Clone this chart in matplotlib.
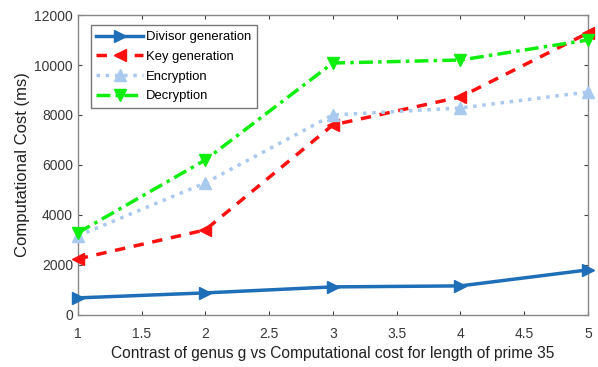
import matplotlib
matplotlib.use("Agg")
import matplotlib.pyplot as plt

genus = [1, 2, 3, 4, 5]
divisor_gen = [680, 880, 1120, 1160, 1800]
key_gen = [2240, 3400, 7600, 8720, 11280]
encryption = [3160, 5280, 8000, 8280, 8920]
decryption = [3280, 6200, 10080, 10200, 11000]

x_ticks = [1, 1.5, 2, 2.5, 3, 3.5, 4, 4.5, 5]
x_tick_labels = ["1", "1.5", "2", "2.5", "3", "3.5", "4", "4.5", "5"]
y_ticks = [0, 2000, 4000, 6000, 8000, 10000, 12000]

plt.rcParams['font.family'] = ['Liberation Sans', 'DejaVu Sans']

fig = plt.figure(figsize=(5.98, 3.67), dpi=100)
ax = fig.add_axes([0.130, 0.142, 0.853, 0.817])

ax.plot(genus, divisor_gen, color='#1f6eb8', lw=2.5, ls='-', marker='>', ms=9,
        label='Divisor generation', clip_on=False, zorder=3)
ax.plot(genus, key_gen, color='#ff1010', lw=2.5, ls=(0, (3, 2.5)), marker='<', ms=9,
        label='Key generation', clip_on=False, zorder=3)
ax.plot(genus, encryption, color='#a9c9ef', lw=2.5, ls=':', marker='^', ms=9,
        label='Encryption', clip_on=False, zorder=3)
ax.plot(genus, decryption, color='#10ee10', lw=2.5, ls=(0, (4, 1.5, 1, 1.5)), marker='v', ms=9,
        label='Decryption', clip_on=False, zorder=3)

ax.set_xlim(1, 5)
ax.set_ylim(0, 12000)
ax.set_xticks(x_ticks)
ax.set_xticklabels(x_tick_labels)
ax.set_yticks(y_ticks)
ax.tick_params(direction='in', length=3, colors='#404040', labelcolor='#383838',
               labelsize=10, top=True, right=True)
ax.tick_params(axis='x', pad=9)
for s in ax.spines.values():
    s.set_color('#888888')
    s.set_linewidth(1.0)

ax.set_xlabel('Contrast of genus g vs Computational cost for length of prime 35',
              fontsize=11.2, color='#222222', labelpad=3)
ax.set_ylabel('Computational Cost (ms)', fontsize=12, color='#222222', labelpad=3)

leg = ax.legend(loc='upper left', bbox_to_anchor=(0.02, 0.975), fontsize=9.4,
                frameon=True, fancybox=False, borderpad=0.45, labelspacing=0.58,
                handlelength=3.6, handletextpad=0.2, borderaxespad=0.2)
leg.get_frame().set_edgecolor('#555555')
leg.get_frame().set_linewidth(1.0)

fig.savefig('out.png', dpi=100)
